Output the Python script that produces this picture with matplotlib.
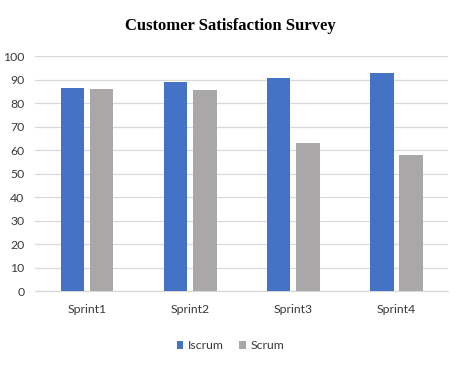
import matplotlib
matplotlib.use("Agg")
import matplotlib.pyplot as plt
import numpy as np

categories = ["Sprint1", "Sprint2", "Sprint3", "Sprint4"]
iscrum = [86.4, 88.8, 90.6, 92.8]
scrum = [85.8, 85.5, 62.9, 57.8]
series_names = ["Iscrum", "Scrum"]
yticks = [0, 10, 20, 30, 40, 50, 60, 70, 80, 90, 100]

fig = plt.figure(figsize=(4.61, 3.69), dpi=100)
ax = fig.add_axes([0.0768, 0.2106, 0.8952, 0.6376])

x = np.arange(len(categories))
w = 0.228
off = 0.142
ax.bar(x - off, iscrum, w, color="#4472C4", label=series_names[0], zorder=3)
ax.bar(x + off, scrum, w, color="#A9A7A7", label=series_names[1], zorder=3)

ax.set_xlim(-0.5, len(categories) - 0.5)
ax.set_ylim(0, 100)
ax.set_yticks(yticks)
ax.set_xticks(x)
ax.set_xticklabels(categories)
ax.grid(axis="y", color="#D9D9D9", linewidth=0.9, zorder=0)
for s in ["top", "right", "left"]:
    ax.spines[s].set_visible(False)
ax.spines["bottom"].set_color("#D9D9D9")
ax.spines["bottom"].set_linewidth(0.9)
ax.tick_params(axis="both", length=0, labelsize=8.8, labelcolor="#3A3A3A")
ax.tick_params(axis="y", pad=8)
ax.tick_params(axis="x", pad=9)
for lab in ax.get_xticklabels() + ax.get_yticklabels():
    lab.set_family("Lato")

fig.text(0.5, 0.93, "Customer Satisfaction Survey", ha="center", va="center",
         family="Liberation Serif", weight="bold", fontsize=12)

leg = fig.legend(loc="center", bbox_to_anchor=(0.5, 0.063), ncol=2, frameon=False,
                 prop={"family": "Lato", "size": 8.8}, handlelength=0.55, handleheight=0.55,
                 columnspacing=1.2, handletextpad=0.4)
for t in leg.get_texts():
    t.set_color("#3A3A3A")

fig.savefig("out.png", dpi=100)
